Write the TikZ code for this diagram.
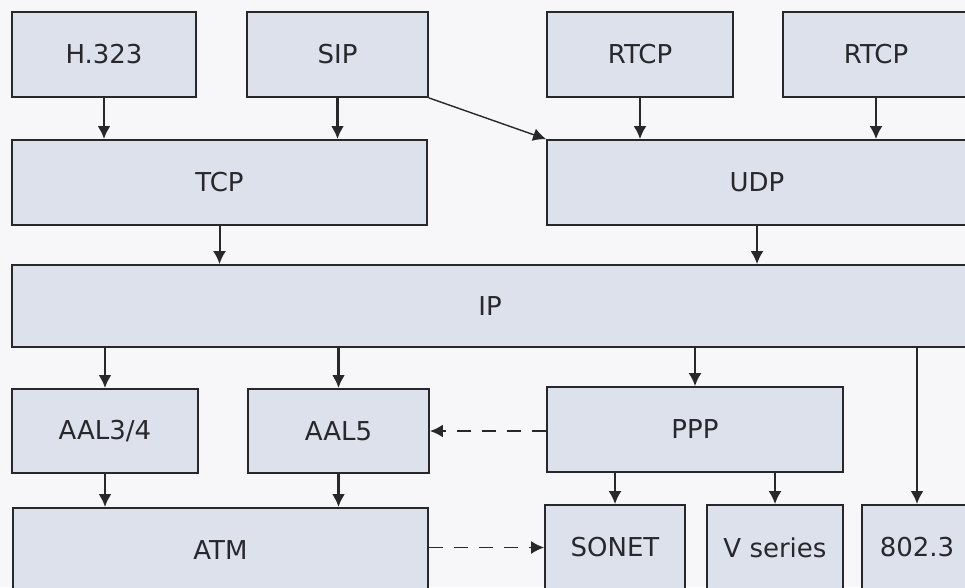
\documentclass[tikz,border=0pt]{standalone}
\usepackage{fontspec}
\setmainfont{DejaVu Sans}
\usetikzlibrary{arrows.meta}
\definecolor{boxfill}{RGB}{221,225,235}
\definecolor{paper}{RGB}{247,247,249}
\definecolor{ink}{RGB}{40,40,44}
\begin{document}
\begin{tikzpicture}[x=1pt,y=-1pt,
  layer/.style={draw=ink, line width=1.8pt, fill=boxfill, inner sep=0pt,
    text=ink, font=\fontsize{26}{30}\selectfont},
  arr/.style={draw=ink, line width=2.8pt, -{Latex[length=13pt,width=13pt]}},
  thinarr/.style={arr, line width=2pt},
  dasharr/.style={arr, line width=2.2pt, dash pattern=on 14pt off 11pt}]
\useasboundingbox (0,0) rectangle (965,587);
\fill[paper] (0,0) rectangle (965,587);
\clip (0,0) rectangle (965,587);

% application layer
\node[layer, minimum width=184pt, minimum height=85pt] (H323) at (104,54.5) {H.323};
\node[layer, minimum width=181pt, minimum height=85pt] (SIP) at (337.5,54.5) {SIP};
\node[layer, minimum width=186pt, minimum height=85pt] (RTCPa) at (640,54.5) {RTCP};
\node[layer, minimum width=186pt, minimum height=85pt] (RTCPb) at (876,54.5) {RTCP};

% transport layer
\node[layer, minimum width=415pt, minimum height=85pt] (TCP) at (219.5,182.5) {TCP};
\node[layer, minimum width=420pt, minimum height=85pt] (UDP) at (757,182.5) {UDP};

% network layer
\node[layer, minimum width=956pt, minimum height=82pt] (IP) at (490,306) {IP};

% adaptation / link layer
\node[layer, minimum width=186pt, minimum height=84pt] (AAL34) at (105,431) {AAL3/4};
\node[layer, minimum width=181pt, minimum height=84pt] (AAL5) at (338.5,431) {AAL5};
\node[layer, minimum width=296pt, minimum height=85pt] (PPP) at (695,429.5) {PPP};

% physical layer
\node[layer, minimum width=415pt, minimum height=85pt] (ATM) at (220.5,550.5) {ATM};
\node[layer, minimum width=140pt, minimum height=85pt] (SONET) at (615,547.5) {SONET};
\node[layer, minimum width=136pt, minimum height=85pt] (Vser) at (775,547.5) {V series};
\node[layer, minimum width=110pt, minimum height=85pt] (E8023) at (917,547.5) {802.3};

% connectors
\draw[arr] (H323.south) -- (H323.south |- TCP.north);
\draw[arr] (SIP.south) -- (SIP.south |- TCP.north);
\draw[thinarr, line width=1.4pt] (SIP.south east) -- (UDP.north west);
\draw[thinarr] (RTCPa.south) -- (RTCPa.south |- UDP.north);
\draw[thinarr] (RTCPb.south) -- (RTCPb.south |- UDP.north);
\draw[thinarr] (TCP.south) -- (TCP.south |- IP.north);
\draw[thinarr] (UDP.south) -- (UDP.south |- IP.north);
\draw[arr] (IP.south -| AAL34.north) -- (AAL34.north);
\draw[arr] (IP.south -| AAL5.north) -- (AAL5.north);
\draw[thinarr] (IP.south -| PPP.north) -- (PPP.north);
\draw[arr] (IP.south -| E8023.north) -- (E8023.north);
\draw[arr] (AAL34.south) -- (AAL34.south |- ATM.north);
\draw[arr] (AAL5.south) -- (AAL5.south |- ATM.north);
\draw[thinarr] (SONET.north |- PPP.south) -- (SONET.north);
\draw[thinarr] (Vser.north |- PPP.south) -- (Vser.north);
\draw[dasharr] (AAL5.east -| PPP.west) -- (AAL5.east);
\draw[dasharr, line width=1.6pt] (ATM.east |- SONET.west) -- (SONET.west);
\end{tikzpicture}
\end{document}
